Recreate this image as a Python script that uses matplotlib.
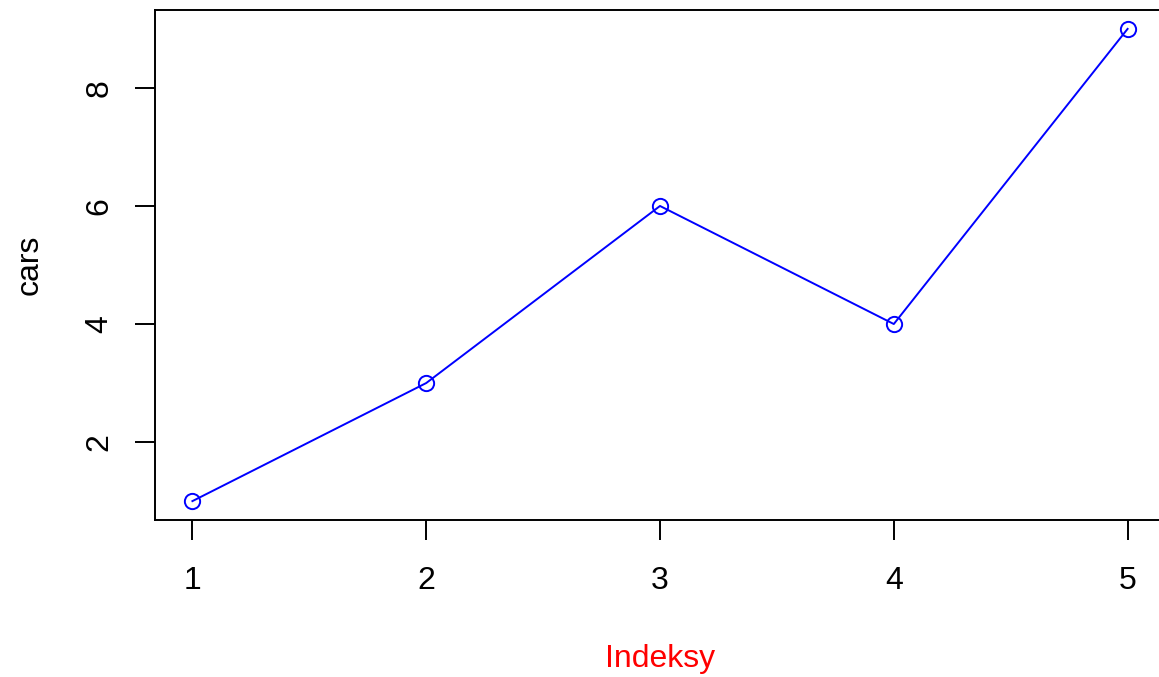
import numpy as np
import matplotlib
matplotlib.use("Agg")
import matplotlib.pyplot as plt

# data
idx = [1, 2, 3, 4, 5]
cars = [1, 3, 6, 4, 9]
xticks = [1, 2, 3, 4, 5]
yticks = [2, 4, 6, 8]

plt.rcParams['font.family'] = ['Liberation Sans', 'DejaVu Sans']
plt.rcParams['font.size'] = 23

fig = plt.figure(figsize=(11.59, 6.77), dpi=100)
# R-like plot region; right edge runs a bit past the figure
ax = fig.add_axes([155/1159, 1 - 520/677, 1010/1159, 510/677])

ax.plot(idx, cars, color='blue', lw=1.4, marker='o', ms=11,
        mfc='none', mec='blue', mew=1.4)

# R default 4% axis padding
xr = max(idx) - min(idx)
yr = max(cars) - min(cars)
ax.set_xlim(min(idx) - 0.04*xr, max(idx) + 0.04*xr)
ax.set_ylim(min(cars) - 0.04*yr, max(cars) + 0.04*yr)

ax.set_xticks(xticks)
ax.set_yticks(yticks)
ax.tick_params(length=14.4, width=1.4, direction='out', pad=18.5)
ax.tick_params(axis='y', labelrotation=90, pad=15)
for lab in ax.get_yticklabels():
    lab.set_va('center')
for sp in ax.spines.values():
    sp.set_linewidth(1.4)

ax.set_xlabel('Indeksy', color='red')
ax.xaxis.set_label_coords(0.5, (520 - 659) / 510)
ax.xaxis.label.set_va('center')
ax.set_ylabel('cars')
ax.yaxis.set_label_coords((30 - 155) / 1010, 0.5)
ax.yaxis.label.set_va('center')

fig.savefig('out.png', dpi=100)
